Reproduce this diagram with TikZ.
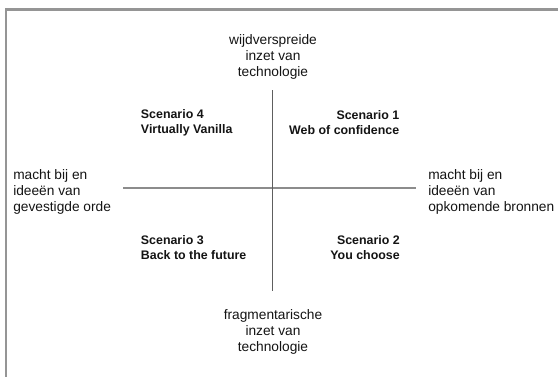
\documentclass[tikz,border=0pt]{standalone}
\usepackage{fontspec}
\setmainfont{Liberation Sans}
\definecolor{framegray}{HTML}{959595}
\definecolor{vaxis}{HTML}{5E5E5E}
\definecolor{haxis}{HTML}{8C8C8C}
\begin{document}
\begin{tikzpicture}[x=0.75pt,y=-0.75pt,
  axislabel/.style={inner sep=0pt, font=\fontsize{10.3}{12}\selectfont, text=black!92},
  scen/.style={inner sep=0pt, font=\fontsize{9.3}{11.25}\selectfont\bfseries, text=black!92}]
\fill[white] (0,0) rectangle (558,376);
\useasboundingbox (0,0) rectangle (558,376);
% frame
\coordinate (fbl) at (6,377);
\coordinate (ftl) at (6,9.5);
\coordinate (ftr) at (559,9.5);
\draw[framegray, line width=1.6pt] (fbl) -- (ftl) -- (ftr);
% axes
\coordinate (vtop) at (272.5,90);
\coordinate (vbot) at (272.5,291);
\coordinate (hl) at (123,188);
\coordinate (hr) at (416,188);
\draw[haxis, line width=1pt] (hl) -- (hr);
\draw[vaxis, line width=1pt] (vtop) -- (vbot);
% axis labels
\node[axislabel, align=center] (top) at (273,57) {wijdverspreide\\inzet van\\technologie};
\node[axislabel, align=center] (bottom) at (273,332) {fragmentarische\\inzet van\\technologie};
\node[axislabel, align=left, anchor=west] (left) at (13,192) {macht bij en\\ideeën van\\gevestigde orde};
\node[axislabel, align=left, anchor=west] (right) at (428,192) {macht bij en\\ideeën van\\opkomende bronnen};
% scenarios
\node[scen, align=left, anchor=west] (s4) at (140.7,123) {Scenario 4\\Virtually Vanilla};
\node[scen, align=right, anchor=east] (s1) at (399.5,123) {Scenario 1\\Web of confidence};
\node[scen, align=left, anchor=west] (s3) at (140.7,248) {Scenario 3\\Back to the future};
\node[scen, align=right, anchor=east] (s2) at (400,248) {Scenario 2\\You choose};
\end{tikzpicture}
\end{document}
